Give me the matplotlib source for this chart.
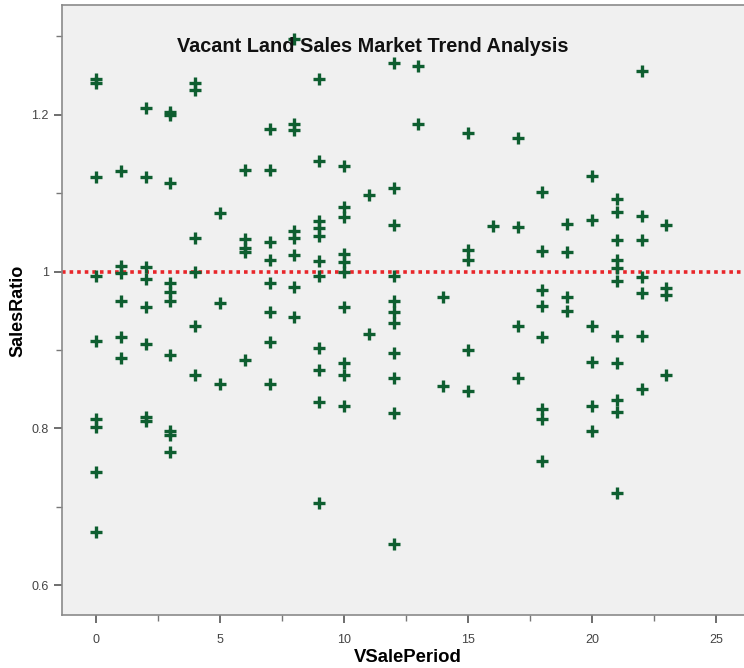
import matplotlib
matplotlib.use("Agg")
import matplotlib.pyplot as plt
from matplotlib.ticker import MultipleLocator

title = "Vacant Land Sales Market Trend Analysis"
x_label = "VSalePeriod"
y_label = "SalesRatio"
reference_ratio = 1.0

vsale_period = (
    [0] * 9 + [1] * 6 + [2] * 8 + [3] * 10 + [4] * 6 + [5] * 3 + [6] * 5 + [7] * 8
    + [8] * 8 + [9] * 11 + [10] * 10 + [11] * 2 + [12] * 11 + [13] * 2 + [14] * 2
    + [15] * 5 + [16] * 1 + [17] * 4 + [18] * 8 + [19] * 4 + [20] * 6 + [21] * 11
    + [22] * 7 + [23] * 4
)
sales_ratio = [
    1.245, 1.240, 1.120, 0.994, 0.912, 0.812, 0.802, 0.745, 0.668,          # 0
    1.128, 1.007, 0.998, 0.963, 0.916, 0.890,                               # 1
    1.208, 1.121, 1.006, 0.990, 0.955, 0.907, 0.815, 0.810,                 # 2
    1.203, 1.200, 1.113, 0.985, 0.974, 0.963, 0.893, 0.797, 0.792, 0.770,   # 3
    1.240, 1.232, 1.043, 1.000, 0.930, 0.868,                               # 4
    1.075, 0.960, 0.857,                                                    # 5
    1.130, 1.042, 1.030, 1.025, 0.887,                                      # 6
    1.182, 1.130, 1.038, 1.015, 0.986, 0.948, 0.910, 0.857,                 # 7
    1.296, 1.188, 1.180, 1.052, 1.043, 1.021, 0.980, 0.942,                 # 8
    1.246, 1.141, 1.065, 1.055, 1.045, 1.013, 0.994, 0.903, 0.875, 0.834, 0.705,  # 9
    1.135, 1.082, 1.070, 1.022, 1.012, 1.000, 0.955, 0.884, 0.868, 0.829,   # 10
    1.098, 0.921,                                                           # 11
    1.266, 1.107, 1.060, 0.995, 0.962, 0.948, 0.934, 0.896, 0.864, 0.820, 0.652,  # 12
    1.262, 1.188,                                                           # 13
    0.968, 0.854,                                                           # 14
    1.177, 1.028, 1.015, 0.900, 0.848,                                      # 15
    1.058,                                                                  # 16
    1.171, 1.057, 0.931, 0.864,                                             # 17
    1.102, 1.026, 0.977, 0.956, 0.916, 0.825, 0.812, 0.758,                 # 18
    1.061, 1.025, 0.968, 0.950,                                             # 19
    1.122, 1.066, 0.930, 0.885, 0.828, 0.797,                               # 20
    1.093, 1.076, 1.040, 1.015, 1.005, 0.988, 0.918, 0.883, 0.836, 0.821, 0.717,  # 21
    1.256, 1.071, 1.040, 0.993, 0.973, 0.918, 0.850,                        # 22
    1.060, 0.979, 0.970, 0.868,                                             # 23
]

x_ticks = [0, 5, 10, 15, 20, 25]
y_ticks = [0.6, 0.8, 1.0, 1.2]
y_tick_labels = ["0.6", "0.8", "1", "1.2"]

plt.rcParams['font.family'] = ['Liberation Sans', 'DejaVu Sans']

W, H = 744, 668
fig = plt.figure(figsize=(W / 100, H / 100), dpi=100)
left, right, top, bottom = 62, 750, 5, 615
ax = fig.add_axes([left / W, (H - bottom) / H, (right - left) / W, (bottom - top) / H])
ax.set_facecolor("#f0f0f0")

ax.axhline(reference_ratio, color="#e8262a", lw=2.6, linestyle=(0, (1, 1.1)), zorder=2)
ax.scatter(vsale_period, sales_ratio, marker="+", s=70, linewidths=2.4,
           color="#0e5e30", zorder=3)

ax.set_xlim(-1.37, 26.37)
ax.set_ylim(0.562, 1.34)
ax.set_xticks(x_ticks)
ax.set_yticks(y_ticks)
ax.set_yticklabels(y_tick_labels)
ax.xaxis.set_minor_locator(MultipleLocator(2.5))
ax.yaxis.set_minor_locator(MultipleLocator(0.1))

for s in ax.spines.values():
    s.set_color("#8a8a8a")
    s.set_linewidth(1.2)

ax.tick_params(axis="both", which="major", length=6, width=1.2, color="#555555",
               labelsize=9, labelcolor="#444444", direction="out")
ax.tick_params(axis="both", which="minor", length=4, width=1.0, color="#777777",
               direction="out")
ax.tick_params(axis="x", which="both", pad=8)

ax.set_xlabel(x_label, fontsize=13.3, fontweight="bold")
ax.set_ylabel(y_label, fontsize=13, fontweight="bold")
ax.xaxis.set_label_coords((408 - left) / (right - left), (bottom - 657) / (bottom - top))
ax.yaxis.set_label_coords((18 - left) / (right - left), (bottom - 311) / (bottom - top))
ax.xaxis.label.set_va("center")
ax.yaxis.label.set_va("center")

ax.text((373 - left) / (right - left), (bottom - 47) / (bottom - top), title,
        transform=ax.transAxes, ha="center", va="center",
        fontsize=14.3, fontweight="bold", color="#111111", zorder=4)

fig.savefig("out.png", dpi=100)
